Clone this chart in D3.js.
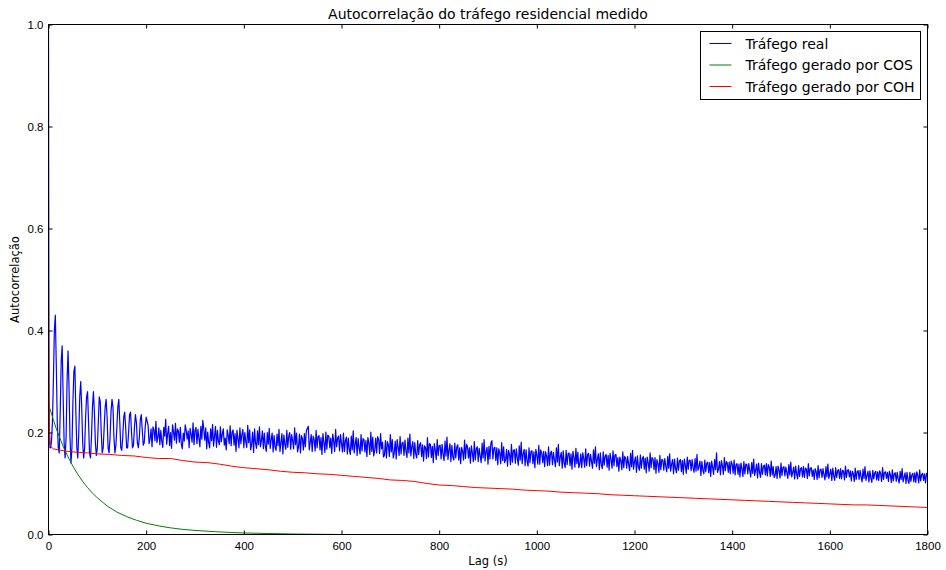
<!DOCTYPE html>
<html>
<head>
<meta charset="utf-8">
<script src="https://cdn.jsdelivr.net/npm/d3@7"></script>
<style>
  body { margin: 0; background: #fff; }
  svg { font-family: "DejaVu Sans", sans-serif; }
</style>
</head>
<body>
<div id="chart"></div>
<script>
// chart texts
const chartTitle = "Autocorrelação do tráfego residencial medido";
const xLabel = "Lag (s)";
const yLabel = "Autocorrelação";
const seriesNames = ["Tráfego real", "Tráfego gerado por COS", "Tráfego gerado por COH"];
const xTicks = [0, 200, 400, 600, 800, 1000, 1200, 1400, 1600, 1800];
const yTicks = [0.0, 0.2, 0.4, 0.6, 0.8, 1.0];

// Tráfego real: first lags, then lag 4..200 every 2,
// then 204..1800 every 4 (realLate) with the in-between lags 206..1798 (realMid)
const realHeadLag = [0, 1, 2, 3];
const realHeadVal = [1.0, 0.26, 0.2, 0.17];
const realEarly = [
  0.17, 0.18, 0.22, 0.30, 0.40, 0.43, 0.33, 0.22, 0.17, 0.16,
  0.24, 0.34, 0.37, 0.27, 0.18, 0.15, 0.19, 0.30, 0.36, 0.29,
  0.19, 0.14, 0.17, 0.26, 0.32, 0.33, 0.24, 0.17, 0.15, 0.20,
  0.27, 0.30, 0.25, 0.18, 0.15, 0.17, 0.23, 0.27, 0.28, 0.22,
  0.16, 0.15, 0.19, 0.25, 0.28, 0.24, 0.18, 0.155, 0.17, 0.22,
  0.27, 0.26, 0.20, 0.16, 0.17, 0.21, 0.25, 0.265, 0.23, 0.17,
  0.16, 0.19, 0.24, 0.265, 0.25, 0.19, 0.16, 0.175, 0.21, 0.25,
  0.265, 0.22, 0.17, 0.165, 0.19, 0.23, 0.24, 0.21, 0.17, 0.17,
  0.20, 0.235, 0.24, 0.20, 0.17, 0.175, 0.21, 0.235, 0.22, 0.18,
  0.17, 0.19, 0.225, 0.235, 0.205, 0.175, 0.18, 0.21, 0.23
];
const realLate = [
  .214,.188,.172,.205,.222,.191,.176,.183,.210,.226,.198,.174,.169,.201,.218,.207,.181,.177,.199,.215,
  .187,.170,.196,.219,.204,.178,.189,.212,.224,.185,.168,.180,.207,.216,.193,.171,.183,.211,.198,.175,
  .166,.194,.213,.201,.175,.163,.188,.209,.196,.170,.182,.214,.205,.177,.161,.179,.203,.211,.184,.168,
  .173,.200,.208,.186,.162,.171,.197,.206,.180,.158,.176,.204,.193,.167,.183,.209,.199,.172,.160,.188,
  .198,.203,.212,.181,.163,.186,.204,.192,.166,.157,.180,.201,.195,.170,.159,.183,.206,.189,.164,.178,
  .199,.184,.158,.167,.193,.203,.177,.155,.170,.196,.188,.162,.153,.179,.201,.191,.165,.160,.186,.198,
  .181,.156,.150,.175,.196,.186,.160,.148,.171,.192,.179,.155,.163,.189,.197,.172,.149,.158,.184,.176,
  .153,.144,.170,.190,.178,.151,.141,.166,.186,.174,.148,.157,.183,.191,.165,.143,.152,.179,.171,.146,
  .139,.163,.185,.177,.150,.140,.160,.182,.168,.143,.154,.179,.186,.162,.138,.148,.184,.169,.145,.137,
  .160,.180,.172,.146,.134,.157,.177,.165,.140,.150,.174,.181,.158,.135,.144,.170,.163,.139,.131,.155,
  .175,.166,.141,.133,.153,.172,.160,.137,.146,.170,.177,.152,.130,.140,.165,.158,.135,.128,.151,.169,
  .161,.138,.131,.149,.168,.157,.134,.143,.166,.172,.148,.127,.137,.162,.154,.132,.126,.147,.164,.156,
  .133,.124,.145,.162,.153,.130,.138,.159,.165,.143,.122,.132,.156,.149,.128,.121,.141,.160,.151,.127,
  .120,.139,.155,.147,.126,.134,.153,.158,.138,.119,.129,.150,.144,.123,.118,.136,.152,.146,.125,.131,
  .149,.157,.133,.116,.126,.146,.140,.121,.114,.131,.147,.160,.128,.117,.135,.151,.143,.122,.119,.138,
  .146,.137,.118,.113,.129,.143,.138,.119,.125,.141,.148,.126,.111,.122,.139,.134,.117,.115,.132,.144,
  .133,.116,.110,.126,.140,.131,.115,.121,.137,.142,.122,.109,.119,.135,.129,.113,.112,.128,.139,.130,
  .114,.108,.123,.135,.127,.112,.117,.133,.138,.119,.106,.115,.131,.125,.110,.109,.124,.134,.126,.113,
  .105,.119,.130,.123,.108,.113,.128,.133,.115,.103,.111,.126,.121,.107,.106,.120,.131,.122,.110,.104,
  .117,.127,.119,.104,.109,.124,.129,.112,.100,.107,.122,.117,.103,.102,.116,.127,.118,.106,.101,.114
];
const realMid = [
  .178,.207,.211,.184,.180,.209,.204,.171,.193,.177,.212,.200,.215,.185,.179,.203,.210,.168,.183,.204,
  .203,.208,.181,.176,.210,.206,.172,.187,.206,.209,.201,.170,.184,.173,.212,.204,.176,.182,.207,.189,
  .205,.178,.174,.205,.198,.204,.170,.178,.206,.200,.171,.180,.166,.201,.207,.169,.176,.172,.203,.199,
  .163,.177,.169,.199,.194,.165,.174,.163,.198,.195,.167,.171,.200,.196,.168,.176,.162,.197,.194,.166,
  .172,.208,.166,.196,.193,.164,.170,.194,.190,.198,.161,.167,.193,.189,.197,.163,.172,.193,.196,.162,
  .163,.191,.189,.157,.166,.160,.190,.188,.158,.164,.186,.184,.190,.157,.163,.154,.189,.192,.159,.168,
  .152,.184,.182,.153,.162,.150,.183,.186,.155,.158,.181,.185,.151,.160,.154,.182,.180,.150,.157,.180,
  .176,.174,.149,.152,.177,.173,.178,.147,.155,.175,.177,.145,.154,.147,.178,.175,.146,.150,.176,.170,
  .171,.146,.149,.172,.170,.174,.143,.146,.172,.169,.141,.150,.144,.171,.173,.180,.148,.171,.170,.168,
  .139,.145,.141,.167,.165,.137,.142,.166,.168,.136,.146,.139,.167,.166,.134,.141,.164,.162,.167,.138,
  .138,.160,.163,.162,.135,.136,.163,.161,.133,.142,.135,.161,.164,.131,.137,.160,.158,.163,.132,.139,
  .131,.158,.160,.132,.135,.159,.157,.130,.140,.133,.158,.160,.129,.136,.157,.155,.159,.130,.135,.157,
  .151,.152,.127,.131,.150,.153,.125,.133,.128,.152,.154,.126,.130,.153,.150,.152,.124,.131,.148,.151,
  .147,.122,.127,.146,.149,.123,.130,.124,.147,.148,.121,.126,.147,.145,.148,.120,.128,.145,.147,.122,
  .124,.126,.144,.143,.119,.123,.142,.141,.144,.118,.127,.122,.143,.145,.118,.125,.140,.142,.144,.120,
  .117,.139,.138,.140,.114,.119,.137,.139,.113,.120,.116,.138,.140,.112,.118,.136,.139,.137,.114,.117,
  .112,.133,.134,.111,.116,.133,.132,.110,.117,.113,.132,.134,.109,.114,.131,.133,.130,.110,.115,.131,
  .127,.129,.108,.111,.128,.129,.107,.113,.110,.128,.130,.106,.112,.127,.129,.126,.107,.112,.127,.125,
  .124,.104,.108,.125,.126,.103,.110,.106,.124,.125,.102,.109,.124,.123,.125,.104,.108,.123,.122,.124,
  .102,.105,.121,.122,.101,.108,.103,.121,.122,.100,.104,.120,.121,.123,.101,.105,.120,.119,.120
];

// Tráfego gerado por COS
const cosLag = [0, 5, 10, 15, 20, 25, 30, 40, 50, 60, 70, 80, 90, 100, 120, 140, 160, 180, 200,
  225, 250, 275, 300, 350, 400, 450, 500, 600, 800, 1000, 1200, 1400, 1600, 1800];
const cosVal = [0.255, 0.24, 0.225, 0.21, 0.197, 0.185, 0.173, 0.152, 0.134, 0.118, 0.104, 0.092,
  0.081, 0.072, 0.056, 0.044, 0.035, 0.028, 0.022, 0.017, 0.013, 0.010, 0.008, 0.005, 0.003,
  0.002, 0.001, 0.000, 0.000, 0.000, 0.000, 0.000, 0.000, 0.000];

// Tráfego gerado por COH: first lags, then 100..1800 every 25
const cohHeadLag = [0, 1, 2, 3, 5, 10, 20, 40, 60, 80];
const cohHeadVal = [0.51, 0.29, 0.2, 0.178, 0.172, 0.168, 0.166, 0.163, 0.161, 0.160];
const cohBody = [
  .158,.157,.155,.154,.151,.149,.149,.145,.142,.141,.138,.134,.131,.129,.127,.124,.122,.121,.119,.118,
  .116,.114,.112,.110,.107,.106,.104,.100,.097,.096,.094,.092,.091,.090,.089,.087,.086,.085,.083,.082,
  .081,.080,.078,.077,.076,.075,.074,.073,.072,.071,.070,.069,.068,.067,.066,.065,.064,.063,.062,.061,
  .060,.059,.058,.058,.057,.056,.055,.054,.053
];

const realSeries = [
  ...realHeadLag.map((l, i) => [l, realHeadVal[i]]),
  ...realEarly.map((v, i) => [4 + i * 2, v]),
  ...[...realLate.map((v, i) => [204 + i * 4, v]),
      ...realMid.map((v, i) => [206 + i * 4, v])].sort((a, b) => a[0] - b[0])
];
const cosSeries = cosLag.map((l, i) => [l, cosVal[i]]);
const cohSeries = [
  ...cohHeadLag.map((l, i) => [l, cohHeadVal[i]]),
  ...cohBody.map((v, i) => [100 + i * 25, v])
];

const colors = ["#0000ff", "#008000", "#ff0000"];

const W = 946, H = 570;
const margin = { left: 48.5, top: 24.5, right: 18.5, bottom: 35.5 };

const svg = d3.select("#chart").append("svg")
  .attr("width", W)
  .attr("height", H);

const x = d3.scaleLinear().domain([0, 1800]).range([margin.left, W - margin.right]);
const y = d3.scaleLinear().domain([0, 1]).range([H - margin.bottom, margin.top]);

// lines
const line = d3.line().x(d => x(d[0])).y(d => y(d[1]));
svg.append("clipPath").attr("id", "clip").append("rect")
  .attr("x", x(0)).attr("y", y(1)).attr("width", x(1800) - x(0)).attr("height", y(0) - y(1));

const plot = svg.append("g").attr("clip-path", "url(#clip)");
[realSeries, cosSeries, cohSeries].forEach((s, i) => {
  plot.append("path")
    .datum(s)
    .attr("fill", "none")
    .attr("stroke", colors[i])
    .attr("stroke-width", i === 0 ? 1.2 : 1)
    .attr("stroke-linejoin", "round")
    .attr("d", line);
});

// axes, ticks inside on all four sides
const tickLen = 4;
const xAxisB = d3.axisBottom(x).tickValues(xTicks).tickSize(-tickLen).tickPadding(7).tickFormat(d3.format("d"));
const xAxisT = d3.axisTop(x).tickValues(xTicks).tickSize(-tickLen).tickFormat("");
const yAxisL = d3.axisLeft(y).tickValues(yTicks).tickSize(-tickLen).tickPadding(5).tickFormat(d3.format(".1f"));
const yAxisR = d3.axisRight(y).tickValues(yTicks).tickSize(-tickLen).tickFormat("");

function style(g) {
  g.select(".domain").remove();
  g.selectAll("line").attr("stroke", "#000");
  g.selectAll("text").attr("fill", "#000").style("font-size", "11.5px");
}
svg.append("g").attr("transform", `translate(0,${y(0)})`).call(xAxisB).call(style);
svg.append("g").attr("transform", `translate(0,${y(1)})`).call(xAxisT).call(style);
svg.append("g").attr("transform", `translate(${x(0)},0)`).call(yAxisL).call(style);
svg.append("g").attr("transform", `translate(${x(1800)},0)`).call(yAxisR).call(style);

svg.append("rect")
  .attr("x", x(0)).attr("y", y(1))
  .attr("width", x(1800) - x(0)).attr("height", y(0) - y(1))
  .attr("fill", "none").attr("stroke", "#000").attr("stroke-width", 1);

// title and labels
svg.append("text")
  .attr("x", (x(0) + x(1800)) / 2).attr("y", 19)
  .attr("text-anchor", "middle")
  .style("font-size", "14px")
  .text(chartTitle);

svg.append("text")
  .attr("x", (x(0) + x(1800)) / 2).attr("y", 565)
  .attr("text-anchor", "middle")
  .style("font-size", "11.5px")
  .text(xLabel);

svg.append("text")
  .attr("transform", `translate(19,${(y(0) + y(1)) / 2}) rotate(-90)`)
  .attr("text-anchor", "middle")
  .style("font-size", "11.5px")
  .text(yLabel);

// legend
const legend = svg.append("g").attr("transform", "translate(700.5,31.5)");
legend.append("rect")
  .attr("width", 220).attr("height", 68)
  .attr("fill", "#fff").attr("stroke", "#000").attr("stroke-width", 1);
seriesNames.forEach((name, i) => {
  const ly = 12 + i * 21.5;
  legend.append("line")
    .attr("x1", 9).attr("x2", 31).attr("y1", ly).attr("y2", ly)
    .attr("stroke", colors[i]).attr("stroke-width", 1);
  legend.append("text")
    .attr("x", 45).attr("y", ly + 5)
    .style("font-size", "14px")
    .text(name);
});
</script>
</body>
</html>
